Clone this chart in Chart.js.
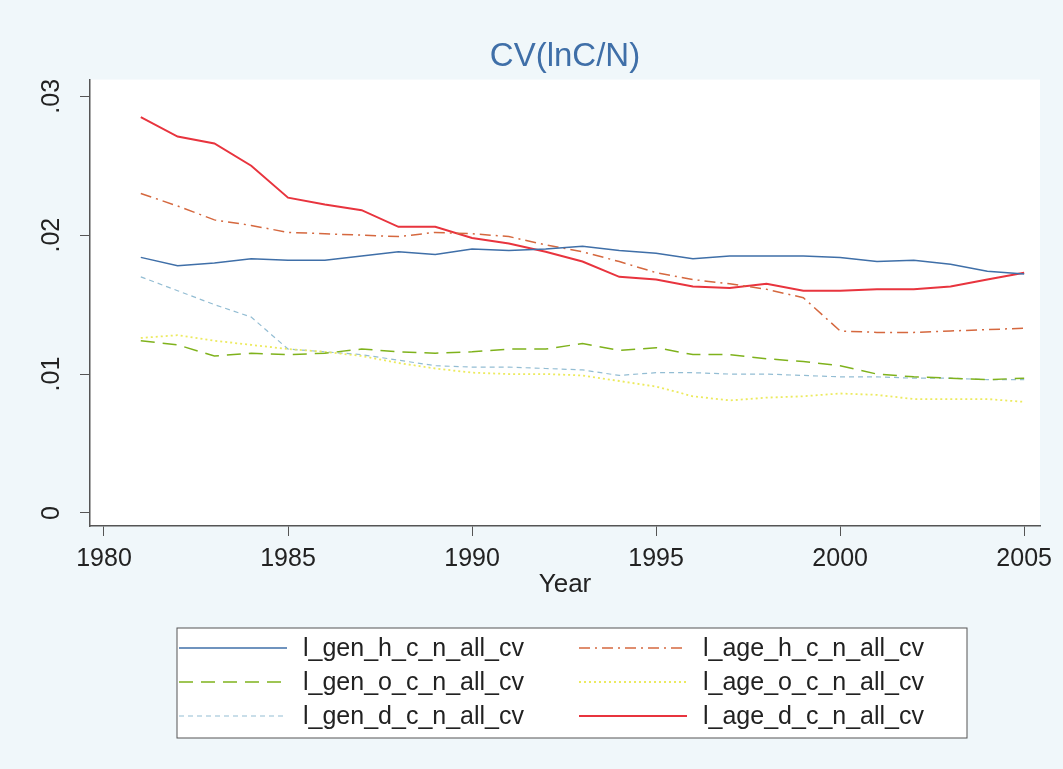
<!DOCTYPE html>
<html>
<head>
<meta charset="utf-8">
<script src="https://cdn.jsdelivr.net/npm/chart.js@4/dist/chart.umd.min.js"></script>
<style>
  html, body { margin: 0; padding: 0; background: #f0f7fa; }
  #wrap { width: 1063px; height: 769px; }
</style>
</head>
<body>
<div id="wrap"><canvas id="chart"></canvas></div>
<script>
// values, one per year 1981..2005
const years = [1981, 1982, 1983, 1984, 1985, 1986, 1987, 1988, 1989, 1990, 1991, 1992, 1993,
    1994, 1995, 1996, 1997, 1998, 1999, 2000, 2001, 2002, 2003, 2004, 2005];
const genH = [0.0184, 0.0178, 0.0180, 0.0183, 0.0182, 0.0182, 0.0185, 0.0188, 0.0186, 0.0190, 0.0189, 0.0190, 0.0192,
    0.0189, 0.0187, 0.0183, 0.0185, 0.0185, 0.0185, 0.0184, 0.0181, 0.0182, 0.0179, 0.0174, 0.0172];
const ageH = [0.0230, 0.0221, 0.0211, 0.0207, 0.0202, 0.0201, 0.0200, 0.0199, 0.0202, 0.0201, 0.0199, 0.0193, 0.0188,
    0.0181, 0.0173, 0.0168, 0.0165, 0.0161, 0.0155, 0.0131, 0.0130, 0.0130, 0.0131, 0.0132, 0.0133];
const genO = [0.0124, 0.0121, 0.0113, 0.0115, 0.0114, 0.0115, 0.0118, 0.0116, 0.0115, 0.0116, 0.0118, 0.0118, 0.0122,
    0.0117, 0.0119, 0.0114, 0.0114, 0.0111, 0.0109, 0.0106, 0.0100, 0.0098, 0.0097, 0.0096, 0.0097];
const ageO = [0.0126, 0.0128, 0.0124, 0.0121, 0.0118, 0.0116, 0.0113, 0.0108, 0.0104, 0.0101, 0.0100, 0.0100, 0.0099,
    0.0095, 0.0091, 0.0084, 0.0081, 0.0083, 0.0084, 0.0086, 0.0085, 0.0082, 0.0082, 0.0082, 0.0080];
const genD = [0.0170, 0.0160, 0.0150, 0.0141, 0.0118, 0.0116, 0.0114, 0.0110, 0.0106, 0.0105, 0.0105, 0.0104, 0.0103,
    0.0099, 0.0101, 0.0101, 0.0100, 0.0100, 0.0099, 0.0098, 0.0098, 0.0097, 0.0097, 0.0096, 0.0096];
const ageD = [0.0285, 0.0271, 0.0266, 0.0250, 0.0227, 0.0222, 0.0218, 0.0206, 0.0206, 0.0198, 0.0194, 0.0188, 0.0181,
    0.0170, 0.0168, 0.0163, 0.0162, 0.0165, 0.0160, 0.0160, 0.0161, 0.0161, 0.0163, 0.0168, 0.0173];

const xTicks = [1980, 1985, 1990, 1995, 2000, 2005];
const yTicks = [0, 0.01, 0.02, 0.03];
const yTickLabels = ["0", ".01", ".02", ".03"];

const pts = arr => arr.map((v, i) => ({ x: years[i], y: v }));
const font = "'Liberation Sans', Arial, sans-serif";

const series = [
    { label: "l_gen_h_c_n_all_cv", data: genH, color: "#3f6fa8", width: 1.5, dash: [] },
    { label: "l_age_h_c_n_all_cv", data: ageH, color: "#d5683f", width: 1.5, dash: [11, 5, 2, 5] },
    { label: "l_gen_o_c_n_all_cv", data: genO, color: "#7fb21c", width: 1.5, dash: [14, 8] },
    { label: "l_age_o_c_n_all_cv", data: ageO, color: "#ecea5e", width: 1.8, dash: [2, 3] },
    { label: "l_gen_d_c_n_all_cv", data: genD, color: "#93bdd3", width: 1.2, dash: [5, 4] },
    { label: "l_age_d_c_n_all_cv", data: ageD, color: "#e8343e", width: 2, dash: [] }
];

const backdrop = {
    id: "backdrop",
    beforeDraw(chart) {
        const { ctx, chartArea: a } = chart;
        ctx.save();
        ctx.fillStyle = "#f0f7fa";
        ctx.fillRect(0, 0, chart.width, chart.height);
        ctx.fillStyle = "#ffffff";
        ctx.fillRect(a.left, a.top, a.right - a.left, a.bottom - a.top);
        ctx.restore();
    }
};

// y tick labels are rotated like the original
const yLabels = {
    id: "yLabels",
    afterDraw(chart) {
        const { ctx, scales: { y } } = chart;
        ctx.save();
        ctx.font = "25px " + font;
        ctx.fillStyle = "#222";
        ctx.textAlign = "center";
        ctx.textBaseline = "middle";
        yTicks.forEach((v, i) => {
            ctx.save();
            ctx.translate(52, y.getPixelForValue(v));
            ctx.rotate(-Math.PI / 2);
            ctx.fillText(yTickLabels[i], 0, 0);
            ctx.restore();
        });
        ctx.restore();
    }
};

// boxed two column legend under the axis
const boxLegend = {
    id: "boxLegend",
    afterDraw(chart) {
        const { ctx, chartArea: a } = chart;
        const cx = (a.left + a.right) / 2;
        const left = cx - 388, top = a.bottom + 102, w = 790, h = 110;
        ctx.save();
        ctx.fillStyle = "#ffffff";
        ctx.fillRect(left, top, w, h);
        ctx.strokeStyle = "#555";
        ctx.lineWidth = 1;
        ctx.strokeRect(left, top, w, h);
        ctx.font = "25px " + font;
        ctx.fillStyle = "#222";
        ctx.textBaseline = "middle";
        chart.data.datasets.forEach((ds, i) => {
            const col = i % 2, row = Math.floor(i / 2);
            const x0 = left + 2 + col * 400;
            const yy = top + 20 + row * 34;
            ctx.save();
            ctx.strokeStyle = ds.borderColor;
            ctx.lineWidth = ds.borderWidth;
            ctx.setLineDash(ds.borderDash);
            ctx.beginPath();
            ctx.moveTo(x0, yy);
            ctx.lineTo(x0 + 108, yy);
            ctx.stroke();
            ctx.restore();
            ctx.fillText(ds.label, x0 + 124, yy + 1);
        });
        ctx.restore();
    }
};

new Chart(document.getElementById("chart").getContext("2d"), {
    type: "line",
    data: {
        datasets: series.map(s => ({
            label: s.label,
            data: pts(s.data),
            borderColor: s.color,
            backgroundColor: s.color,
            borderWidth: s.width,
            borderDash: s.dash,
            pointRadius: 0,
            tension: 0,
            fill: false
        }))
    },
    options: {
        responsive: true,
        maintainAspectRatio: false,
        animation: false,
        layout: { padding: { top: 0, left: 0, right: 23, bottom: 169 } },
        plugins: {
            legend: { display: false },
            tooltip: { enabled: false },
            title: {
                display: true,
                fullSize: false,
                text: "CV(lnC/N)",
                color: "#3f6fa8",
                font: { family: font, size: 33, weight: "normal" },
                padding: { top: 37, bottom: 3 }
            }
        },
        scales: {
            x: {
                type: "linear",
                min: 1979.62,
                max: 2005.43,
                afterBuildTicks: s => { s.ticks = xTicks.map(v => ({ value: v })); },
                afterFit: s => { s.height = 74; },
                ticks: {
                    color: "#222",
                    font: { family: font, size: 25 },
                    padding: 8,
                    maxRotation: 0,
                    callback: v => String(v)
                },
                grid: { drawOnChartArea: false, drawTicks: true, tickLength: 10, color: "#555" },
                border: { display: true, color: "#555", width: 1.5 },
                title: {
                    display: true,
                    text: "Year",
                    color: "#222",
                    font: { family: font, size: 26 },
                    padding: { top: 0, bottom: 0 }
                }
            },
            y: {
                min: -0.00094,
                max: 0.0312,
                afterBuildTicks: s => { s.ticks = yTicks.map(v => ({ value: v })); },
                afterFit: s => { s.width = 90; },
                ticks: { display: false },
                grid: { drawOnChartArea: false, drawTicks: true, tickLength: 10, color: "#555" },
                border: { display: true, color: "#555", width: 1.5 }
            }
        }
    },
    plugins: [backdrop, yLabels, boxLegend]
});
</script>
</body>
</html>
